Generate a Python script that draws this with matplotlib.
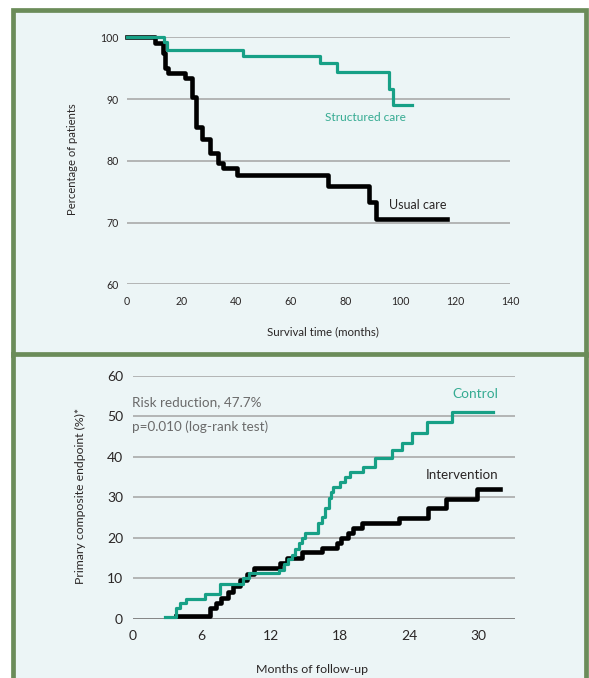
import matplotlib.pyplot as plt
from matplotlib.patches import Rectangle

plt.rcParams["font.family"] = ["Lato", "DejaVu Sans"]

W, H = 589, 678

# top panel: survival curves
surv_x_ticks = [0, 20, 40, 60, 80, 100, 120, 140]
surv_y_ticks = [60, 70, 80, 90, 100]
usual_t = [0, 10.4, 13.4, 14.0, 15.0, 21.4, 24.0, 25.2, 27.4, 30.5, 33.5, 35.3,
           40.2, 73.7, 88.5, 90.9, 117.0]
usual_v = [100, 99.0, 97.4, 95.0, 94.2, 93.4, 90.4, 85.5, 83.6, 81.2, 79.6, 78.8,
           77.7, 76.0, 73.4, 70.5, 70.5]
struct_t = [0, 13.7, 14.7, 42.6, 70.6, 76.7, 95.9, 97.2, 104.1]
struct_v = [100, 99.3, 97.9, 96.9, 95.8, 94.4, 91.7, 89.0, 89.0]

# bottom panel: cumulative endpoint
fu_x_ticks = [0, 6, 12, 18, 24, 30]
fu_y_ticks = [0, 10, 20, 30, 40, 50, 60]
control_t = [2.8, 3.8, 4.1, 4.6, 6.3, 7.6, 9.6, 10.1, 12.7, 13.1, 13.5, 13.8, 14.1,
             14.4, 14.7, 15.0, 16.1, 16.4, 16.7, 17.0, 17.2, 17.4, 18.0, 18.4, 18.9,
             20.0, 21.0, 22.5, 23.4, 24.2, 25.5, 27.7, 31.3]
control_v = [0.4, 2.6, 3.9, 4.9, 6.1, 8.6, 10.0, 11.3, 12.2, 13.6, 14.7, 15.9, 17.2,
             18.7, 19.9, 21.1, 23.6, 25.2, 27.3, 29.8, 31.4, 32.6, 33.9, 35.1, 36.3,
             37.4, 39.6, 41.7, 43.5, 45.8, 48.7, 51.0, 51.0]
interv_t = [3.8, 6.7, 7.2, 7.7, 8.3, 8.75, 9.3, 9.9, 10.5, 12.8, 13.4, 14.7, 16.4,
            17.7, 18.1, 18.7, 19.15, 19.9, 23.1, 25.6, 27.2, 29.85, 31.9]
interv_v = [0.8, 2.6, 3.9, 5.3, 6.7, 8.2, 9.6, 11.0, 12.5, 13.7, 15.0, 16.4, 17.4,
            18.7, 19.9, 21.1, 22.4, 23.6, 25.0, 27.3, 29.5, 32.0, 32.0]

BG = "#ecf5f6"
BORDER = "#6b8c59"
GREEN = "#17a086"
GREEN_TXT = "#35ab92"
GRID = "#a3a3a3"
DARK = "#2a2626"


def fx(x):
    return x / W


def fy(y):
    return 1 - y / H


def axes_rect(left, right, top, bottom):
    return [fx(left), fy(bottom), (right - left) / W, (bottom - top) / H]


fig = plt.figure(figsize=(W / 100, H / 100), dpi=100)
fig.patch.set_facecolor("white")

# panel frames
for top, bottom in [(9.5, 354.5), (354.5, 700)]:
    fig.patches.append(Rectangle((fx(13), fy(bottom)), fx(585.5) - fx(13),
                                 fy(top) - fy(bottom), transform=fig.transFigure,
                                 facecolor=BG, edgecolor=BORDER, linewidth=3.4,
                                 zorder=-5))


def style_axes(ax, xpad, ypad, size):
    ax.set_facecolor("none")
    for s in ax.spines.values():
        s.set_visible(False)
    ax.tick_params(length=0, labelsize=size, labelcolor=DARK)
    ax.tick_params(axis="x", pad=xpad)
    ax.tick_params(axis="y", pad=ypad)


# ---- top panel ----
ax1 = fig.add_axes(axes_rect(126.5, 510, 37.3, 284.3))
style_axes(ax1, 8.6, 5.8, 7.6)
for v in surv_y_ticks:
    ax1.axhline(v, color=GRID, lw=1.1, zorder=1)
ax1.step(struct_t, struct_v, where="post", color=GREEN, lw=2.3, zorder=3,
         clip_on=False)
ax1.step(usual_t, usual_v, where="post", color="black", lw=3.3, zorder=2,
         clip_on=False)
ax1.set_xlim(0, 140)
ax1.set_ylim(60, 100)
ax1.set_xticks(surv_x_ticks)
ax1.set_yticks(surv_y_ticks)
ax1.text(72.5, 87.0, "Structured care", color=GREEN_TXT, fontsize=8.6,
         va="center", ha="left")
ax1.text(95.8, 72.8, "Usual care", color=DARK, fontsize=9.0, va="center",
         ha="left")
fig.text(fx(323), fy(331.7), "Survival time (months)", fontsize=8.3,
         color=DARK, ha="center", va="center")
fig.text(fx(72), fy(159), "Percentage of patients", fontsize=8.1, color=DARK,
         ha="center", va="center", rotation=90)

# ---- bottom panel ----
ax2 = fig.add_axes(axes_rect(132.5, 515, 375.7, 619))
style_axes(ax2, 7.8, 6.8, 10)
for v in fu_y_ticks:
    ax2.axhline(v, color="#7a7a7a" if v == 0 else GRID,
                lw=2.0 if v == 0 else 1.1, zorder=1)
ax2.step(control_t, control_v, where="post", color=GREEN, lw=2.3, zorder=3,
         clip_on=False)
ax2.step(interv_t, interv_v, where="post", color="black", lw=3.3, zorder=2,
         clip_on=False)
ax2.set_xlim(0, 33.17)
ax2.set_ylim(0, 60)
ax2.set_xticks(fu_x_ticks)
ax2.set_yticks(fu_y_ticks)
ax2.text(0.0, 53.5, "Risk reduction, 47.7%", color="#6a6a6a", fontsize=9.7,
         va="center", ha="left")
ax2.text(0.0, 47.3, "p=0.010 (log-rank test)", color="#6a6a6a", fontsize=9.7,
         va="center", ha="left")
ax2.text(31.7, 55.6, "Control", color=GREEN_TXT, fontsize=9.9, va="center",
         ha="right")
ax2.text(31.7, 35.4, "Intervention", color=DARK, fontsize=9.6, va="center",
         ha="right")
fig.text(fx(312.5), fy(669.3), "Months of follow-up", fontsize=8.9,
         color=DARK, ha="center", va="center")
fig.text(fx(80.5), fy(495.5), "Primary composite endpoint (%)*", fontsize=8.8,
         color=DARK, ha="center", va="center", rotation=90)

fig.savefig("out.png", dpi=100, facecolor=fig.get_facecolor())
